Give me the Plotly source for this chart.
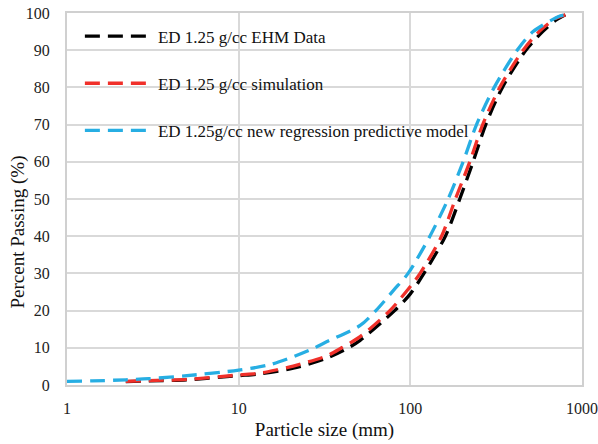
import plotly.graph_objects as go

# Particle size (mm) and percent passing for each series
ehm_x = [2.2, 3, 5, 10, 13.3, 20.8, 32.5, 43.6, 51, 81, 100, 120, 160, 194, 232, 275, 344, 471, 590, 700, 800]
ehm_y = [0.9, 1.1, 1.4, 2.5, 3.0, 4.5, 7.2, 10, 12.0, 20, 24.5, 30, 40, 50, 60, 70, 80, 90, 95, 98, 99.5]

sim_x = [2.2, 3, 5, 10, 13.3, 16.7, 20.8, 32.5, 39.8, 51, 76, 100, 114, 152, 183, 222, 264, 332, 454, 562, 700, 800]
sim_y = [1.0, 1.2, 1.5, 2.7, 3.2, 4.1, 5.1, 7.8, 10, 13.0, 20, 26.5, 30, 40, 50, 60, 70, 80, 90, 95, 98.5, 99.5]

reg_x = [1, 1.4, 2.2, 3, 5, 10, 15, 20.8, 26.6, 32.5, 51, 63, 80, 97, 130, 166, 203, 243, 308, 419, 519, 743, 795]
reg_y = [1.0, 1.1, 1.4, 1.7, 2.5, 4.0, 5.4, 7.6, 9.6, 11.6, 16.0, 20, 25.5, 30, 40, 50, 60, 70, 80, 90, 95, 99.2, 99.5]

names = ["ED 1.25 g/cc EHM Data", "ED 1.25 g/cc simulation", "ED 1.25g/cc new regression predictive model"]
colors = ["#000000", "#f0302a", "#27aee3"]
xticks = [1, 10, 100, 1000]
yticks = list(range(0, 101, 10))

FONT = "Liberation Serif"

fig = go.Figure()
for i, (xs, ys) in enumerate([(ehm_x, ehm_y), (sim_x, sim_y), (reg_x, reg_y)]):
    fig.add_trace(go.Scatter(
        x=xs, y=ys, mode="lines", name=names[i], legendgroup=f"g{i}",
        line=dict(color=colors[i], width=3.3, dash="15px,8px", shape="spline", smoothing=0.8),
    ))

fig.update_layout(
    width=598, height=444,
    margin=dict(l=67, r=16, t=13, b=59),
    paper_bgcolor="white", plot_bgcolor="white",
    font=dict(family=FONT, size=16, color="#222222"),
    showlegend=True,
    legend=dict(
        x=0.025, y=0.985, xanchor="left", yanchor="top",
        bgcolor="rgba(0,0,0,0)", font=dict(family=FONT, size=17, color="#111111"),
        traceorder="grouped", tracegroupgap=22, itemwidth=68,
    ),
    annotations=[
        dict(text="Percent Passing (%)", x=-0.095, xref="paper", xanchor="center",
             y=0.41, yref="paper", yanchor="middle", textangle=-90, showarrow=False,
             font=dict(family=FONT, size=19, color="#111111")),
    ],
)

fig.update_xaxes(
    type="log", range=[0, 3], tickvals=xticks, ticktext=[str(v) for v in xticks],
    showgrid=True, gridcolor="#d9d9d9", gridwidth=1.5,
    showline=True, linecolor="#d0d0d0", linewidth=2, mirror=True,
    ticks="outside", ticklen=8, tickcolor="rgba(0,0,0,0)",
    title=dict(text="Particle size (mm)", font=dict(family=FONT, size=19, color="#111111"), standoff=6),
    zeroline=False, automargin=False,
)
fig.update_yaxes(
    range=[0, 100], tickvals=yticks,
    showgrid=True, gridcolor="#d9d9d9", gridwidth=1.5,
    showline=True, linecolor="#d0d0d0", linewidth=2, mirror=True,
    ticks="outside", ticklen=12, tickcolor="rgba(0,0,0,0)",
    zeroline=False, automargin=False,
)

fig.write_html("out.html")
